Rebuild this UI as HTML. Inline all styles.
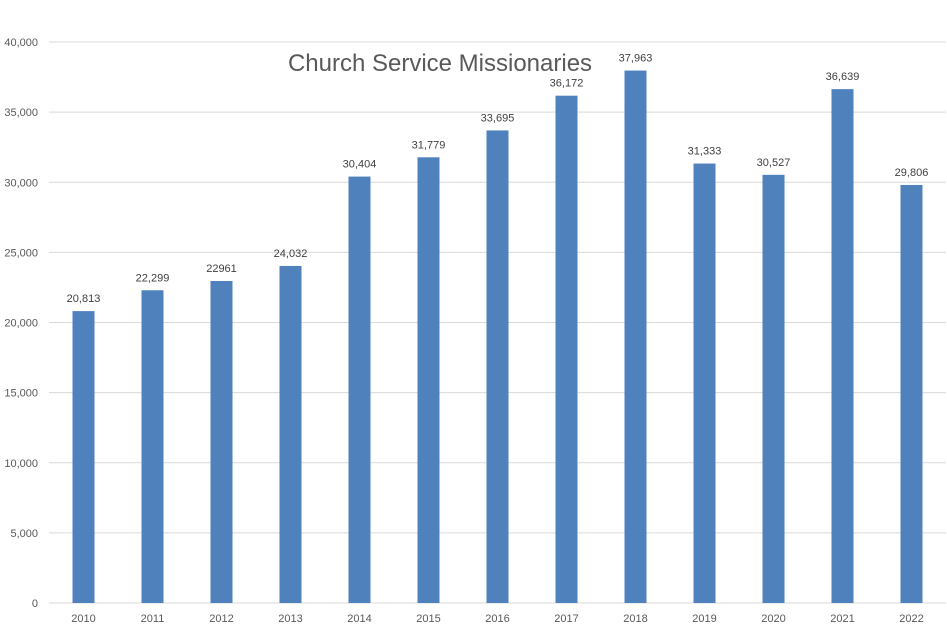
<!DOCTYPE html>
<html><head><meta charset="utf-8"><style>
body{margin:0;background:#fff;}
text{font-family:"Liberation Sans",sans-serif;}
</style></head><body>
<svg id="chart" width="947" height="629" xmlns="http://www.w3.org/2000/svg">
<text x="440" y="71" text-anchor="middle" font-size="24" fill="#595959">Church Service Missionaries</text>
<g id="grid"></g><g id="bars"></g><g id="labels"></g>
</svg>
<script>
const categories=["2010","2011","2012","2013","2014","2015","2016","2017","2018","2019","2020","2021","2022"];
const values=[20813,22299,22961,24032,30404,31779,33695,36172,37963,31333,30527,36639,29806];
const valueLabels=["20,813","22,299","22961","24,032","30,404","31,779","33,695","36,172","37,963","31,333","30,527","36,639","29,806"];
const yTicks=[0,5000,10000,15000,20000,25000,30000,35000,40000];
const yTickLabels=["0","5,000","10,000","15,000","20,000","25,000","30,000","35,000","40,000"];
const NS="http://www.w3.org/2000/svg";
const x0=49,x1=946,yB=603,yT=42,yMax=40000;
const bw=(x1-x0)/categories.length;
const y=v=>yB-(v/yMax)*(yB-yT);
const xc=i=>x0+bw*(i+0.5);
function mk(t,a,p,txt){const e=document.createElementNS(NS,t);for(const k in a)e.setAttribute(k,a[k]);if(txt!==undefined)e.textContent=txt;p.appendChild(e);return e;}
const g=document.getElementById('grid'),b=document.getElementById('bars'),l=document.getElementById('labels');
yTicks.forEach((t,i)=>{
 const ln=mk('line',{x1:x0,x2:x1,y1:y(t),y2:y(t),stroke:'#d9d9d9','stroke-width':1},g);
 
 
 const tx=mk('text',{x:38,y:y(t)+4,'text-anchor':'end','font-size':11,fill:'#595959'},g,yTickLabels[i]);
 
 
});
categories.forEach((c,i)=>{
 const r=mk('rect',{x:xc(i)-11,y:y(values[i]),width:22,height:yB-y(values[i]),fill:'#4f81bd'},b);
 
 
 const v=mk('text',{x:xc(i),y:y(values[i])-9,'text-anchor':'middle','font-size':11,fill:'#404040'},l,valueLabels[i]);
 
 
 const xt=mk('text',{x:xc(i),y:622,'text-anchor':'middle','font-size':11,fill:'#595959'},l,c);
 
 
});
</script>
</body></html>
